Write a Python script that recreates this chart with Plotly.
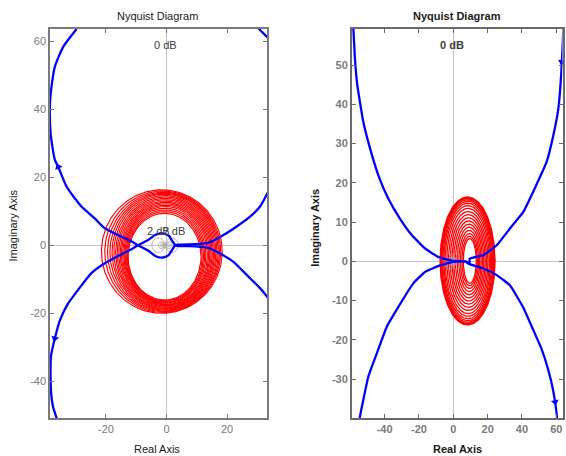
import numpy as np
import plotly.graph_objects as go

# ---------------- data ----------------
# Left plot: blue Nyquist curve, two mirror branches + corner piece
left_blue_a = [[-29.7, 63.6], [-34.1, 58.4], [-36.9, 52.5], [-38.0, 46.6], [-38.5, 41.8],
               [-38.3, 32.9], [-36.9, 25.1], [-35.8, 23.1], [-33.0, 17.2], [-28.1, 11.4],
               [-23.7, 7.9], [-20.4, 5.0], [-14.8, 2.5], [-11.5, 1.1], [-9.4, 0.0],
               [-6.0, -1.6], [-3.4, -3.3], [-1.1, -3.6], [0.8, -2.8], [1.9, -1.3],
               [3.0, 0.05], [9.4, 0.3], [14.0, 0.8], [18.0, 2.6], [22.0, 4.8],
               [27.6, 8.4], [30.9, 11.4], [33.6, 15.8], [35.0, 18.5]]
left_blue_b = [[-35.8, -53.0], [-36.3, -50.9], [-37.5, -47.5], [-38.2, -42.6], [-38.2, -32.8],
               [-36.9, -27.4], [-35.2, -22.0], [-32.5, -17.1], [-29.2, -13.1], [-24.8, -8.2],
               [-20.4, -5.3], [-15.0, -2.7], [-12.1, -1.4], [-9.4, 0.0], [-6.0, 1.6],
               [-3.8, 3.0], [-1.6, 3.5], [0.8, 2.8], [1.9, 1.2], [3.0, -0.05],
               [9.4, -0.3], [14.0, -0.8], [18.0, -2.6], [22.0, -4.8], [27.6, -9.7],
               [30.9, -12.6], [33.6, -15.6], [35.0, -17.5]]
left_blue_corner = [[28.0, 66.0], [30.9, 63.3], [33.6, 60.9], [35.0, 59.0]]
left_arrows = [[-35.8, 23.1, "triangle-up", -24], [-36.9, -27.4, "triangle-down", 14]]

# Left plot: red loops given by their left / right / top / bottom extremes
left_red_left = [-12.7, -12.9, -13.2, -13.5, -13.8, -14.1, -14.5, -14.9, -15.3,
                 -15.8, -16.3, -16.8, -17.4, -18.0, -18.7, -19.5, -20.4, -21.5]
left_red_right = [11.4, 11.8, 12.2, 12.6, 13.0, 13.5, 13.9, 14.3, 14.7,
                  15.1, 15.5, 15.9, 16.3, 16.7, 17.1, 17.5, 17.9, 18.4]
left_red_top = [9.4, 9.9, 10.4, 10.9, 11.4, 11.8, 12.2, 12.6, 13.0,
                13.4, 13.8, 14.2, 14.6, 15.0, 15.3, 15.6, 15.95, 16.3]
left_red_bottom = [-16.1, -16.35, -16.6, -16.8, -17.0, -17.25, -17.5, -17.7, -17.9,
                   -18.15, -18.4, -18.6, -18.8, -19.05, -19.3, -19.5, -19.75, -20.0]

# Right plot: blue Nyquist curve
right_blue_ul = [[-58.6, 62.0], [-58.3, 60.2], [-57.3, 51.7], [-55.9, 44.9], [-52.4, 35.5],
                 [-48.5, 28.8], [-43.7, 22.0], [-37.9, 16.0], [-31.1, 10.9], [-24.2, 6.7],
                 [-16.5, 3.3], [-8.7, 1.1], [-1.9, 0.3], [0.0, 0.1], [7.0, 0.0],
                 [9.5, -0.7], [9.5, 0.7], [17.5, 1.6], [25.3, 4.1], [33.0, 8.4],
                 [40.8, 12.6], [46.6, 17.8], [54.4, 25.4], [58.3, 32.2], [61.2, 39.0],
                 [62.8, 47.4], [63.7, 55.1], [64.3, 62.0]]
right_blue_ll = [[-55.0, -42.0], [-54.4, -39.6], [-49.5, -29.4], [-44.6, -23.5], [-38.8, -16.7],
                 [-32.0, -11.6], [-23.3, -5.6], [-16.5, -2.7], [-7.8, -1.0], [-1.9, -0.3],
                 [0.0, -0.1], [7.0, 0.0], [9.5, -0.7], [17.5, -1.8], [25.3, -3.5],
                 [33.0, -6.1], [40.8, -11.8], [46.6, -17.5], [51.5, -22.4], [55.4, -27.8],
                 [58.3, -33.2], [60.3, -39.2], [60.6, -42.0]]
right_arrows = [[63.2, 50.8, "triangle-down", 8], [59.3, -35.8, "triangle-down", -10]]

# Right plot: red loops (centre x/y, semi-axes)
right_red_cx = [8.30, 8.32, 8.35, 8.38, 8.42, 8.45, 8.50, 8.60, 8.70, 8.80, 8.90, 9.00, 9.10, 9.20, 9.30, 9.40, 9.50, 9.60]
right_red_cy = [0.10, 0.10, 0.10, 0.10, 0.10, 0.10, 0.10, 0.10, 0.10, 0.10, 0.10, 0.10, 0.10, 0.10, 0.10, 0.10, 0.10, 0.10]
right_red_rx = [16.0, 15.7, 15.4, 15.0, 14.5, 13.9, 13.2, 12.4, 11.5, 10.6, 9.7, 8.8, 7.9, 7.0, 6.1, 5.3, 4.5, 3.8]
right_red_ry = [16.3, 16.1, 15.9, 15.6, 15.2, 14.7, 14.1, 13.4, 12.6, 11.8, 11.0, 10.2, 9.4, 8.6, 7.8, 7.0, 6.3, 5.7]

# M-circle grid levels (dB) and axis ticks
m_db = [-20, -10, -6, -4, -2, 2, 4, 6, 10, 20]
left_xticks = [-20, 0, 20]
left_yticks = [-40, -20, 0, 20, 40, 60]
right_xticks = [-40, -20, 0, 20, 40, 60]
right_yticks = [-30, -20, -10, 0, 10, 20, 30, 40, 50]

# ---------------- figure ----------------
W, H = 566, 456
BLUE = "#0000ff"
RED = "#ff0000"
FONT = "Arial, Liberation Sans, sans-serif"
theta = np.linspace(0, 2 * np.pi, 240)

fig = go.Figure()


def add_loops(cx, cy, rx, ry, xa, ya, width):
    for a, b, c, d in zip(cx, cy, rx, ry):
        fig.add_trace(go.Scatter(x=a + c * np.cos(theta), y=b + d * np.sin(theta), mode="lines",
                                 line=dict(color=RED, width=width), xaxis=xa, yaxis=ya,
                                 showlegend=False, hoverinfo="skip"))


def add_mcircles(xa, ya):
    for db in m_db:
        m = 10 ** (db / 20)
        c = -m * m / (m * m - 1)
        r = abs(m / (m * m - 1))
        fig.add_trace(go.Scatter(x=c + r * np.cos(theta), y=r * np.sin(theta), mode="lines",
                                 line=dict(color="#a8a8a8", width=0.8), xaxis=xa, yaxis=ya,
                                 showlegend=False, hoverinfo="skip"))


def add_blue(pts, xa, ya, smoothing=0.6):
    p = np.array(pts)
    fig.add_trace(go.Scatter(x=p[:, 0], y=p[:, 1], mode="lines",
                             line=dict(color=BLUE, width=2.3, shape="spline", smoothing=smoothing),
                             xaxis=xa, yaxis=ya, showlegend=False, hoverinfo="skip"))


def add_arrows(arr, xa, ya):
    for x, y, sym, ang in arr:
        fig.add_trace(go.Scatter(x=[x], y=[y], mode="markers",
                                 marker=dict(symbol=sym, size=7, angle=ang, color=BLUE),
                                 xaxis=xa, yaxis=ya, showlegend=False, hoverinfo="skip"))


l_cx = [(a + b) / 2 for a, b in zip(left_red_left, left_red_right)]
l_rx = [(b - a) / 2 for a, b in zip(left_red_left, left_red_right)]
l_cy = [(a + b) / 2 for a, b in zip(left_red_bottom, left_red_top)]
l_ry = [(b - a) / 2 for a, b in zip(left_red_bottom, left_red_top)]

add_loops(l_cx, l_cy, l_rx, l_ry, "x", "y", 1.15)
add_mcircles("x", "y")
add_blue(left_blue_a, "x", "y")
add_blue(left_blue_b, "x", "y")
add_blue(left_blue_corner, "x", "y")
add_arrows(left_arrows, "x", "y")

add_loops(right_red_cx, right_red_cy, right_red_rx, right_red_ry, "x2", "y2", 1.3)
add_mcircles("x2", "y2")
add_blue(right_blue_ul, "x2", "y2", smoothing=0.35)
add_blue(right_blue_ll, "x2", "y2", smoothing=0.35)
add_arrows(right_arrows, "x2", "y2")


def px2paper_x(px):
    return px / W


def py2paper_y(py):
    return 1 - py / H


def axis(domain, rng, ticks, bold, anchor, lc, lw):
    return dict(domain=domain, range=rng, tickvals=ticks,
                ticktext=[("<b>%d</b>" % t) if bold else str(t) for t in ticks],
                showgrid=False, zeroline=True, zerolinecolor="#c4c4c4", zerolinewidth=1.2,
                showline=True, linecolor=lc, linewidth=lw, mirror="ticks",
                ticks="inside", ticklen=4, tickcolor=lc, tickwidth=1,
                tickfont=dict(family=FONT, size=11, color="#7a7a7a"), anchor=anchor,
                fixedrange=True)


ydom = [py2paper_y(418), py2paper_y(29)]
fig.update_layout(
    width=W, height=H, margin=dict(l=0, r=0, t=0, b=0),
    paper_bgcolor="white", plot_bgcolor="white", showlegend=False,
    xaxis=axis([px2paper_x(50), px2paper_x(267)], [-38.5, 33.2], left_xticks, False, "y", "#7a7a7a", 1.5),
    yaxis=axis(ydom, [-50.8, 63.6], left_yticks, False, "x", "#7a7a7a", 1.5),
    xaxis2=axis([px2paper_x(352), px2paper_x(562.5)], [-59.0, 63.6], right_xticks, True, "y2", "#6a6a6a", 2),
    yaxis2=axis(ydom, [-39.9, 59.2], right_yticks, True, "x2", "#6a6a6a", 2),
)

ann = []


def paper_text(txt, px, py, bold=False, rot=0, size=11, color="#1a1a1a"):
    ann.append(dict(text=("<b>%s</b>" % txt) if bold else txt, x=px2paper_x(px), y=py2paper_y(py),
                    xref="paper", yref="paper", showarrow=False, textangle=rot,
                    xanchor="center", yanchor="middle",
                    font=dict(family=FONT, size=size, color=color)))


paper_text("Nyquist Diagram", 157.5, 16.2)
paper_text("Nyquist Diagram", 456.7, 16.2, bold=True)
paper_text("Real Axis", 157, 448.5)
paper_text("Real Axis", 457.7, 449, bold=True)
paper_text("Imaginary Axis", 12.5, 226, rot=-90)
paper_text("Imaginary Axis", 314.7, 228, bold=True, rot=-90)

# grid labels in data coordinates (the two small labels overlap in the original too)
ann.append(dict(text="0 dB", x=-0.5, y=59.0, xref="x", yref="y", showarrow=False,
                font=dict(family=FONT, size=11, color="#404040")))
ann.append(dict(text="2 dB", x=-2.71, y=4.2, xref="x", yref="y", showarrow=False,
                font=dict(family=FONT, size=11, color="#404040")))
ann.append(dict(text="-2 dB", x=1.71, y=4.2, xref="x", yref="y", showarrow=False,
                font=dict(family=FONT, size=11, color="#404040")))
ann.append(dict(text="<b>0 dB</b>", x=-0.5, y=55.2, xref="x2", yref="y2", showarrow=False,
                font=dict(family=FONT, size=11, color="#404040")))

fig.update_layout(annotations=ann)
fig.write_html("out.html")
